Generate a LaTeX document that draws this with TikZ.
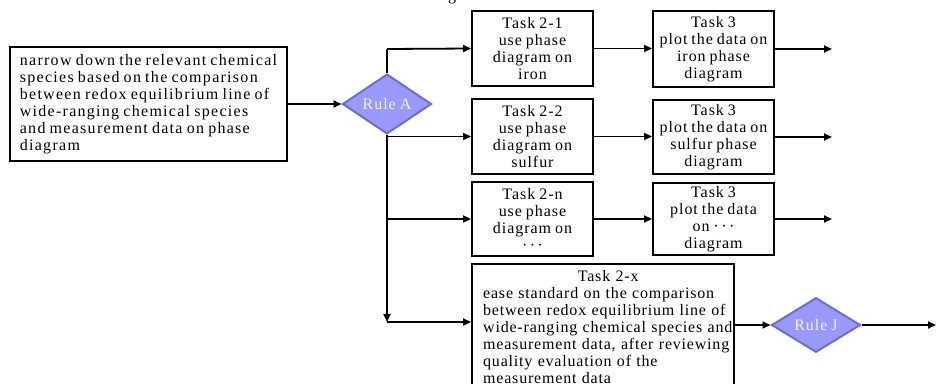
\documentclass[tikz,border=0pt]{standalone}
\usepackage{fontspec}
\setmainfont{Liberation Serif}[LetterSpace=6,WordSpace=0.8]
\newfontfamily\widefont{Liberation Serif}[LetterSpace=8,WordSpace=0.8]
\newfontfamily\narrowfont{Liberation Serif}[LetterSpace=5,WordSpace=0.8]
\usetikzlibrary{shapes.geometric,arrows.meta}
\definecolor{dfill}{RGB}{153,153,250}
\definecolor{dline}{RGB}{110,110,205}
\definecolor{dtext}{RGB}{240,240,255}
\newcommand{\mydots}{·\hspace{2.5pt}·\hspace{2.5pt}·}
\begin{document}
\begin{tikzpicture}[x=1pt,y=-1pt,
  txt/.style={font=\fontsize{16}{17}\selectfont},
  box/.style={txt,draw,line width=1.9pt,inner sep=0pt,align=center},
  rule/.style={txt,diamond,draw=dline,fill=dfill,line width=2pt,minimum width=89pt,minimum height=48pt,inner sep=0pt,text=dtext},
  ln/.style={line width=1.8pt},
  arr/.style={line width=1.8pt,-{Triangle[length=8pt,width=7pt]}}]
\useasboundingbox (0,0) rectangle (936,383);

\node[txt,anchor=base] (gfrag) at (452,0.5) {g};

\node[box,align=left,minimum width=277pt,minimum height=114pt,font=\widefont\fontsize{16}{17}\selectfont] (src) at (148.5,104)
  {narrow down the relevant chemical\\species based on the comparison\\between redox equilibrium line of\\wide-ranging chemical species\\and measurement data on phase\\diagram};

\node[rule] (ra) at (387,104) {Rule A};

\node[box,minimum width=121pt,minimum height=75pt] (t21) at (532.5,48.5) {Task 2-1\\use phase\\diagram on\\iron};
\node[box,minimum width=121pt,minimum height=75pt] (t22) at (532.5,136.5) {Task 2-2\\use phase\\diagram on\\sulfur};
\node[box,minimum width=121pt,minimum height=74pt] (t2n) at (532.5,219) {Task 2-n\\use phase\\diagram on\\\mydots};

\node[box,minimum width=121pt,minimum height=76pt] (t31) at (713.5,49) {Task 3\\plot the data on\\iron phase\\diagram};
\node[box,minimum width=121pt,minimum height=74pt] (t32) at (713.5,137) {Task 3\\plot the data on\\sulfur phase\\diagram};
\node[box,minimum width=121pt,minimum height=72pt] (t3n) at (713.5,219) {Task 3\\plot the data\\on \mydots\\diagram};

\node[box,minimum width=262pt,minimum height=128pt] (t2x) at (603,328) {};
\node[txt,anchor=west,text width=270pt,align=left,inner sep=0pt,font=\narrowfont\fontsize{16}{17}\selectfont] (t2xtext) at (483,327)
  {\makebox[250pt]{Task 2-x}\\ease standard on the comparison\\between redox equilibrium line of\\wide-ranging chemical species and\\measurement data, after reviewing\\quality evaluation of the\\measurement data};

\node[rule] (rj) at (816,325) {Rule J};

\coordinate (vtop) at (387,49);
\coordinate (vbot) at (387,322);
\coordinate (oend) at (832,0);
\coordinate (jend) at (936,325);

\draw[arr] (src.east) -- (ra.west);
\draw[ln] (ra.north) -- (vtop);
\draw[arr] (ra.south) -- (vbot);
\draw[arr] (vtop) -- (t21.west);
\draw[arr] (t22.west -| vtop) -- (t22.west);
\draw[arr] (t2n.west -| vtop) -- (t2n.west);
\draw[arr] (vbot) -- (vbot -| t2x.west);

\draw[arr] (t21.east) -- (t31.west |- t21.east);
\draw[arr] (t22.east) -- (t32.west |- t22.east);
\draw[arr] (t2n.east) -- (t3n.west |- t2n.east);

\draw[arr] (t31.east) -- (t31.east -| oend);
\draw[arr] (t32.east) -- (t32.east -| oend);
\draw[arr] (t3n.east) -- (t3n.east -| oend);

\draw[arr] (t2x.east |- rj.west) -- (rj.west);
\draw[arr] (rj.east) -- (jend);
\end{tikzpicture}
\end{document}
